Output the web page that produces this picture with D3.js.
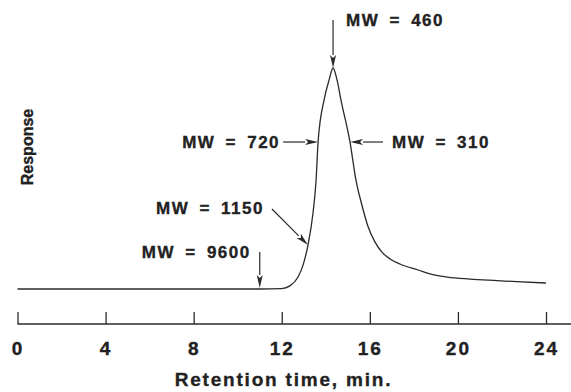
<!DOCTYPE html>
<html>
<head>
<meta charset="utf-8">
<script src="https://cdn.jsdelivr.net/npm/d3@7"></script>
<style>
  html, body { margin: 0; padding: 0; background: #fff; }
  svg { display: block; }
  text { font-family: "Liberation Sans", Arial, Helvetica, sans-serif; font-weight: bold; fill: #222; stroke: #222; stroke-width: 0.35px; }
</style>
</head>
<body>
<svg id="chart" width="571" height="392"></svg>
<script>
// Chromatogram: detector response vs. retention time (min)
const retentionTime = [0, 11.0, 12.0, 12.37, 12.74, 12.97, 13.19, 13.42, 13.56, 13.65, 13.92, 14.15, 14.33,
                       14.51, 14.69, 15.1, 15.37, 15.64, 15.91, 16.23, 16.55, 16.92, 17.37, 18.19, 18.73,
                       19.51, 20.55, 21.78, 22.68, 24.0];
const response = [0, 0, 0.2, 1.4, 5.4, 10.9, 19.9, 34.4, 49.3, 66.5, 85.5, 94.6, 100,
                  94.6, 85.5, 66.5, 49.3, 38.0, 28.5, 21.3, 16.7, 13.6, 11.3, 8.6, 6.8,
                  5.4, 4.5, 3.8, 3.3, 2.7];

// Molecular-weight markers along the trace
const mwLabels = ["MW = 9600", "MW = 1150", "MW = 720", "MW = 460", "MW = 310"];
const mwTimes = [11.0, 13.19, 13.65, 14.33, 15.1];
const mwResponse = [0, 19.9, 66.5, 100, 66.5];

const xTicks = [0, 4, 8, 12, 16, 20, 24];

const svg = d3.select("#chart");
const W = 571;

const x = d3.scaleLinear().domain([0, 24]).range([17.5, 546]);
const y = d3.scaleLinear().domain([0, 100]).range([289, 68]);

const ink = "#2a2a2a";

// trace
const pts = retentionTime.map((t, i) => [t, response[i]]);
svg.append("path")
  .datum(pts)
  .attr("fill", "none")
  .attr("stroke", ink)
  .attr("stroke-width", 1.3)
  .attr("stroke-linejoin", "round")
  .attr("d", d3.line().x(d => x(d[0])).y(d => y(d[1])).curve(d3.curveMonotoneX));

// time axis with upward ticks
const axisY = 324;
const axis = d3.axisBottom(x)
  .tickValues(xTicks)
  .tickFormat(d3.format("d"))
  .tickSizeInner(-12)
  .tickSizeOuter(0)
  .tickPadding(17.5);
const gx = svg.append("g").attr("transform", `translate(0,${axisY})`).call(axis);
gx.select(".domain").remove();
gx.selectAll(".tick line").attr("stroke", ink).attr("stroke-width", 1.3);
gx.selectAll(".tick text")
  .attr("fill", "#222")
  .style("font-family", '"Liberation Sans", Arial, sans-serif')
  .style("font-weight", "bold")
  .style("font-size", "19px")
  .style("letter-spacing", "2px");
svg.append("line")
  .attr("x1", x(0)).attr("x2", W)
  .attr("y1", axisY).attr("y2", axisY)
  .attr("stroke", ink).attr("stroke-width", 1.3);

svg.append("text")
  .attr("x", 283.5).attr("y", 386)
  .attr("text-anchor", "middle")
  .style("font-size", "19px")
  .style("letter-spacing", "1.8px")
  .text("Retention time, min.");

svg.append("text")
  .attr("transform", "translate(33,147) rotate(-90)")
  .attr("text-anchor", "middle")
  .style("font-size", "16px")
  .text("Response");

// arrows: tail offset from the tip and label placement, per marker
const layout = [
  { dx: 0,   dy: -36, tx: -9,  ty: -30, anchor: "end" },
  { dx: -36, dy: -36, tx: -44, ty: -31, anchor: "end" },
  { dx: -35, dy: 0,   tx: -38, ty: 6,   anchor: "end" },
  { dx: 0,   dy: -48, tx: 13,  ty: -42, anchor: "start" },
  { dx: 33,  dy: 0,   tx: 42,  ty: 6,   anchor: "start" }
];

mwLabels.forEach((label, i) => {
  const px = x(mwTimes[i]);
  const py = y(mwResponse[i]) - (mwResponse[i] === 0 ? 1 : 0);
  const L = layout[i];
  const sx = px + L.dx, sy = py + L.dy;
  const len = Math.hypot(L.dx, L.dy);
  const ux = -L.dx / len, uy = -L.dy / len;   // unit vector toward the tip
  const headLen = 13, headHalf = 3;
  const bx = px - ux * headLen, by = py - uy * headLen;
  svg.append("line")
    .attr("x1", sx).attr("y1", sy).attr("x2", bx).attr("y2", by)
    .attr("stroke", ink).attr("stroke-width", 1.2);
  svg.append("path")
    .attr("d", `M${px},${py}L${bx - uy * headHalf},${by + ux * headHalf}L${bx + ux * 3},${by + uy * 3}L${bx + uy * headHalf},${by - ux * headHalf}Z`)
    .attr("fill", ink);
  svg.append("text")
    .attr("x", px + L.tx).attr("y", py + L.ty)
    .attr("text-anchor", L.anchor)
    .style("font-size", "17px")
    .style("letter-spacing", "1.5px")
    .style("word-spacing", "4px")
    .text(label);
});
</script>
</body>
</html>
